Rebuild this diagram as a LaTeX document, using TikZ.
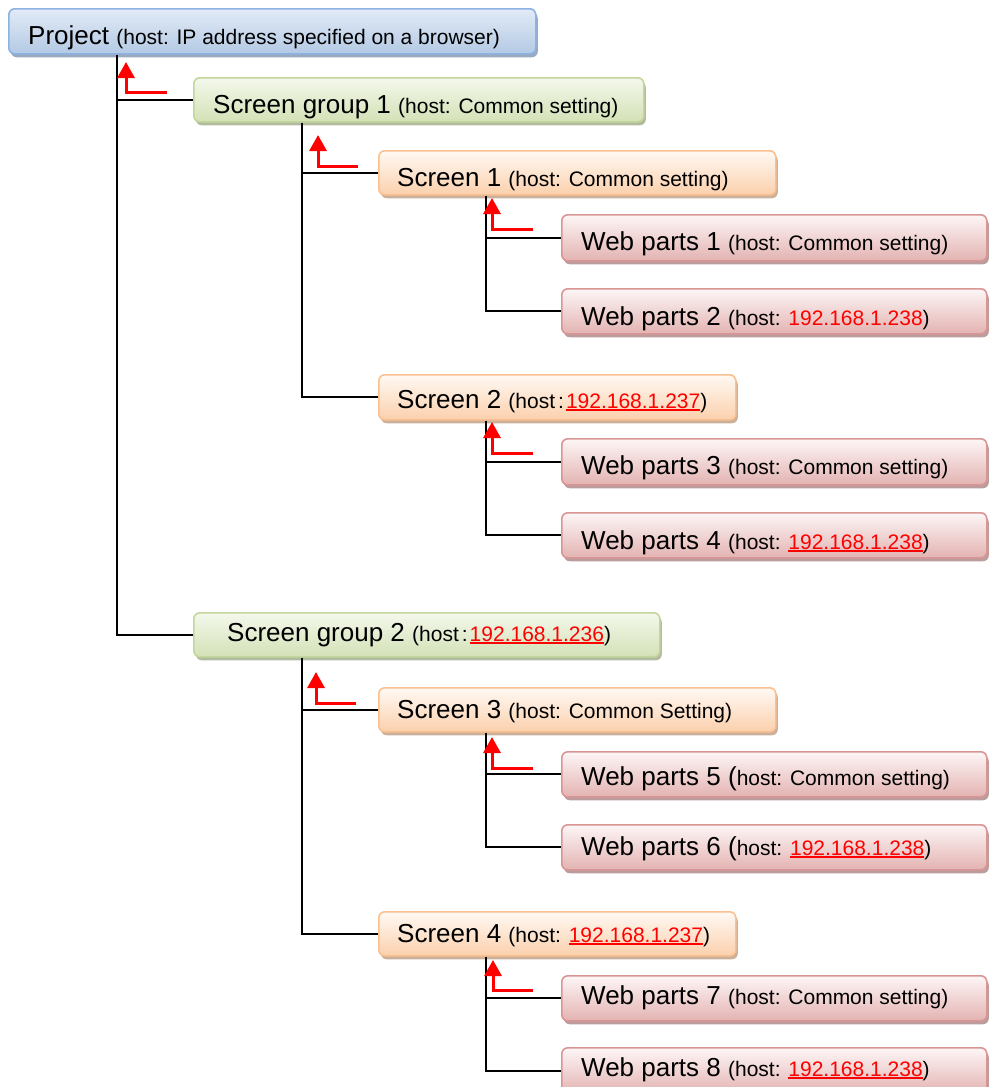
\documentclass[tikz,border=0pt]{standalone}
\usepackage{fontspec}
\setmainfont{Liberation Sans}
\usetikzlibrary{arrows.meta,shadows}
\definecolor{pjB}{HTML}{8DB3E2}
\definecolor{pjT}{HTML}{E2EBF6}
\definecolor{pjD}{HTML}{B3C9E4}
\definecolor{sgB}{HTML}{C3D69B}
\definecolor{sgT}{HTML}{F4F8EC}
\definecolor{sgD}{HTML}{D3E1B6}
\definecolor{scB}{HTML}{FAC090}
\definecolor{scT}{HTML}{FFF9F4}
\definecolor{scD}{HTML}{FBD0AC}
\definecolor{wpB}{HTML}{D99694}
\definecolor{wpT}{HTML}{FDF6F6}
\definecolor{wpD}{HTML}{E3B3B2}
\newcommand\hsm{\fontsize{21}{25}\selectfont}
\newcommand\redul[1]{{\color{red}\setbox0\hbox{#1}\rlap{\rule[-3pt]{\wd0}{1.6pt}}\box0}}
\newcommand\redip[1]{\textcolor{red}{#1}}
\tikzset{
  box/.style={line width=1.6pt, rounded corners=6pt, anchor=north west, inner sep=0pt},
  projbox/.style={box, draw=pjB, top color=pjT, bottom color=pjD,
     drop shadow={shadow xshift=2pt, shadow yshift=-3.5pt, fill=pjB!70!black, opacity=0.65}},
  sgbox/.style={box, draw=sgB, top color=sgT, bottom color=sgD,
     drop shadow={shadow xshift=2pt, shadow yshift=-3.5pt, fill=sgB!70!black, opacity=0.65}},
  scbox/.style={box, draw=scB, top color=scT, bottom color=scD,
     drop shadow={shadow xshift=2pt, shadow yshift=-3.5pt, fill=scB!70!black, opacity=0.65}},
  wpbox/.style={box, draw=wpB, top color=wpT, bottom color=wpD,
     drop shadow={shadow xshift=2pt, shadow yshift=-3.5pt, fill=wpB!70!black, opacity=0.65}},
  lbl/.style={anchor=base west, inner sep=0pt, font=\fontsize{26}{30}\selectfont},
  conn/.style={draw=black, line width=1.8pt},
  redarr/.style={draw=red, line width=3pt, -{Triangle[width=17pt,length=16pt]}},
}
\begin{document}
\begin{tikzpicture}[x=1pt,y=-1pt]
\useasboundingbox (0,0) rectangle (988,1087);
% boxes
\node[projbox, minimum width=527pt, minimum height=45pt] (proj) at (8,8) {};
\node[sgbox, minimum width=450pt, minimum height=44pt] (sg1) at (193,77) {};
\node[scbox, minimum width=397pt, minimum height=44pt] (scr1) at (378,150) {};
\node[wpbox, minimum width=425pt, minimum height=46pt] (wp1) at (561,214) {};
\node[wpbox, minimum width=425pt, minimum height=45pt] (wp2) at (561,288) {};
\node[scbox, minimum width=357pt, minimum height=45pt] (scr2) at (378,374) {};
\node[wpbox, minimum width=425pt, minimum height=46pt] (wp3) at (561,438) {};
\node[wpbox, minimum width=425pt, minimum height=45pt] (wp4) at (561,512) {};
\node[sgbox, minimum width=466pt, minimum height=44pt] (sg2) at (193,612) {};
\node[scbox, minimum width=397pt, minimum height=44pt] (scr3) at (378,687) {};
\node[wpbox, minimum width=425pt, minimum height=45pt] (wp5) at (561,751) {};
\node[wpbox, minimum width=425pt, minimum height=45pt] (wp6) at (561,824) {};
\node[scbox, minimum width=357pt, minimum height=44pt] (scr4) at (378,911) {};
\node[wpbox, minimum width=425pt, minimum height=45pt] (wp7) at (561,975) {};
\node[wpbox, minimum width=425pt, minimum height=46pt] (wp8) at (561,1047) {};
% labels
\node[lbl] (projt) at (28,44) {Project \hsm(host: IP address specified on a browser)};
\node[lbl] (sg1t) at (213,113) {Screen group 1 \hsm(host: Common setting)};
\node[lbl] (scr1t) at (397,186) {Screen 1 \hsm(host: Common setting)};
\node[lbl] (wp1t) at (581,250) {Web parts 1 \hsm(host: Common setting)};
\node[lbl] (wp2t) at (581,325) {Web parts 2 \hsm(host: \redip{192.168.1.238})};
\node[lbl] (scr2t) at (397,408) {Screen 2 \hsm(host\hspace{3pt}:\hspace{2pt}\redul{192.168.1.237})};
\node[lbl] (wp3t) at (581,474) {Web parts 3 \hsm(host: Common setting)};
\node[lbl] (wp4t) at (581,549) {Web parts 4 \hsm(host: \redul{192.168.1.238})};
\node[lbl] (sg2t) at (227,641) {Screen group 2 \hsm(host\hspace{3pt}:\hspace{2pt}\redul{192.168.1.236})};
\node[lbl] (scr3t) at (397,718) {Screen 3 \hsm(host: Common Setting)};
\node[lbl] (wp5t) at (581,785) {Web parts 5 (\hsm host: Common setting)};
\node[lbl] (wp6t) at (581,855) {Web parts 6 (\hsm host: \redul{192.168.1.238})};
\node[lbl] (scr4t) at (397,942) {Screen 4 \hsm(host: \redul{192.168.1.237})};
\node[lbl] (wp7t) at (581,1004) {Web parts 7 \hsm(host: Common setting)};
\node[lbl] (wp8t) at (581,1076) {Web parts 8 \hsm(host: \redul{192.168.1.238})};
% tree lines
\coordinate (v0) at (117,0);
\coordinate (vA) at (302,0);
\coordinate (vB) at (486,0);
\draw[conn] (proj.south -| v0) |- (sg1.west);
\draw[conn] (proj.south -| v0) |- (sg2.west);
\draw[conn] (sg1.south -| vA) |- (scr1.west);
\draw[conn] (sg1.south -| vA) |- (scr2.west);
\draw[conn] (scr1.south -| vB) |- (wp1.west);
\draw[conn] (scr1.south -| vB) |- (wp2.west);
\draw[conn] (scr2.south -| vB) |- (wp3.west);
\draw[conn] (scr2.south -| vB) |- (wp4.west);
\draw[conn] (sg2.south -| vA) |- (scr3.west);
\draw[conn] (sg2.south -| vA) |- (scr4.west);
\draw[conn] (scr3.south -| vB) |- (wp5.west);
\draw[conn] (scr3.south -| vB) |- (wp6.west);
\draw[conn] (scr4.south -| vB) |- (wp7.west);
\draw[conn] (scr4.south -| vB) |- (wp8.west);
% red arrows
\coordinate (e0) at (167,92);  \coordinate (t0) at (126,62);
\coordinate (e1) at (358,166); \coordinate (t1) at (318,135);
\coordinate (e2) at (533,229); \coordinate (t2) at (492,198);
\coordinate (e3) at (533,453); \coordinate (t3) at (492,422);
\coordinate (e4) at (356,703); \coordinate (t4) at (316,672);
\coordinate (e5) at (533,768); \coordinate (t5) at (492,737);
\coordinate (e6) at (533,990); \coordinate (t6) at (493,960);
\foreach \i in {0,...,6} { \draw[redarr] (e\i) -| (t\i); }
\end{tikzpicture}
\end{document}
